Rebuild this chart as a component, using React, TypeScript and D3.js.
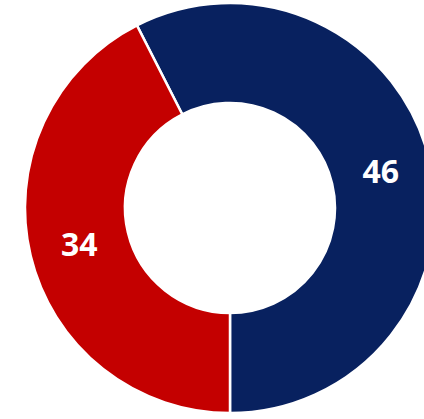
import React, { useRef, useEffect } from 'react';
import * as d3 from 'd3';

const labels = ['Blue', 'Red'];
const values = [46, 34];
const colors = ['#08215f', '#c40000'];

const App: React.FC = () => {
  const svgRef = useRef<SVGSVGElement | null>(null);

  useEffect(() => {
    const svg = d3.select(svgRef.current);
    svg.selectAll('*').remove();

    const width = 424;
    const height = 419;
    const cx = 230;
    const cy = 208;
    const outer = 205;
    const inner = 105;

    const total = d3.sum(values);
    // first slice ends at the bottom (6 o'clock)
    const start = Math.PI - (values[0] / total) * 2 * Math.PI;

    const pie = d3
      .pie<number>()
      .sort(null)
      .startAngle(start)
      .endAngle(start + 2 * Math.PI);

    const arc = d3.arc<d3.PieArcDatum<number>>().innerRadius(inner).outerRadius(outer);

    svg.attr('width', width).attr('height', height);

    const g = svg.append('g').attr('transform', `translate(${cx},${cy})`);

    const arcs = pie(values);

    g.selectAll('path')
      .data(arcs)
      .enter()
      .append('path')
      .attr('d', arc)
      .attr('fill', (d, i) => colors[i])
      .attr('stroke', '#ffffff')
      .attr('stroke-width', 2.5);

    g.selectAll('text')
      .data(arcs)
      .enter()
      .append('text')
      .attr('transform', (d) => `translate(${arc.centroid(d)})`)
      .attr('text-anchor', 'middle')
      .attr('dy', '0.36em')
      .attr('fill', '#ffffff')
      .attr('font-family', 'Open Sans, sans-serif')
      .attr('font-weight', 'bold')
      .attr('font-size', 32)
      .text((d) => String(d.data));
  }, []);

  return (
    <svg
      ref={svgRef}
      aria-label={labels.join(', ')}
      style={{ position: 'absolute', left: 0, top: 0, background: '#ffffff' }}
    ></svg>
  );
};

export default App;
